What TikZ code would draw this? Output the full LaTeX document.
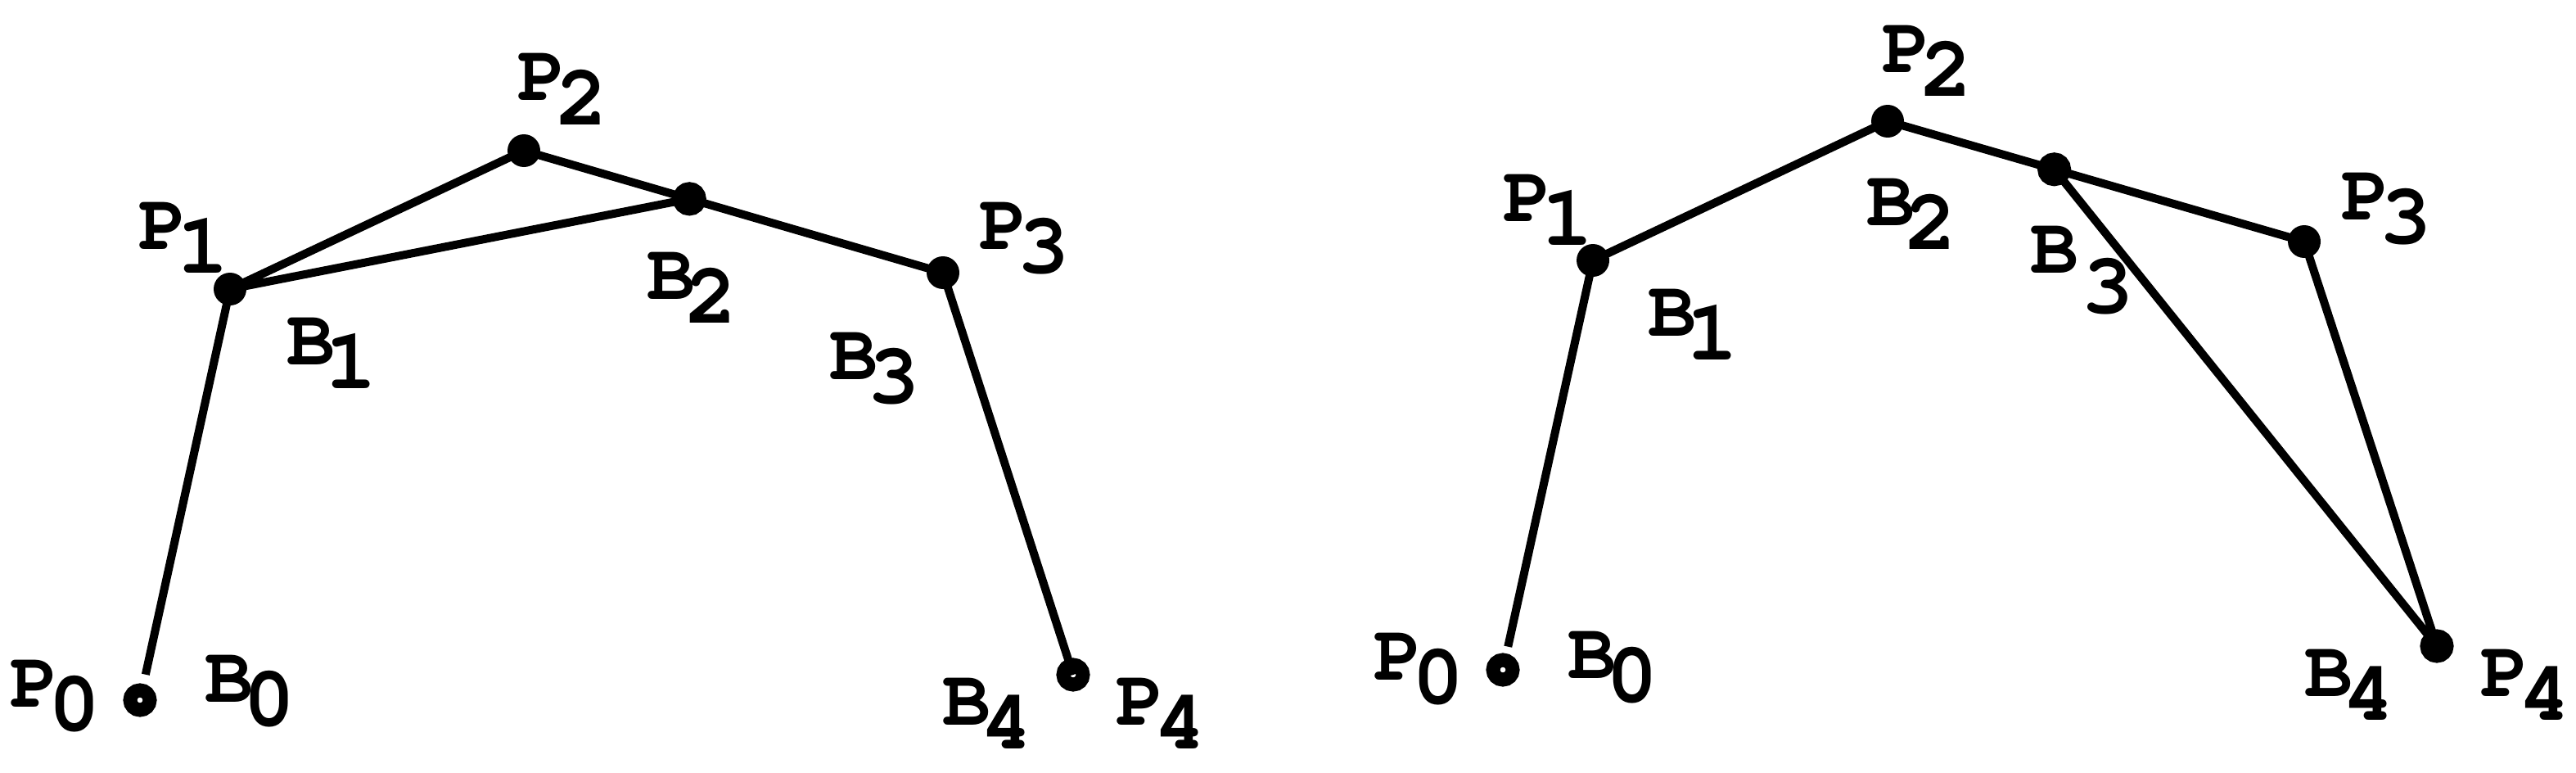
\documentclass[tikz,border=0pt]{standalone}
\usepackage[T1]{fontenc}
\usepackage{courier}
\usepackage{tikz}
\usetikzlibrary{calc}
\usetikzlibrary{positioning}
\newcommand{\sdig}[1]{{\fontsize{30}{30}\selectfont #1}}
\newcommand{\lb}[2]{#1\kern-.12em\raisebox{-.3em}{\sdig{#2}}}

\begin{document}
\begin{tikzpicture}[
    ln/.style={line width=1mm,line join=round},
    ptdot/.style={circle,fill,inner sep=0pt,minimum size=4mm},
    ptring/.style={circle,draw,line width=1.7mm,inner sep=0pt,minimum size=2.4mm},
    lbl/.style={anchor=base west,inner sep=0pt,font=\ttfamily\bfseries\fontsize{28}{28}\selectfont}]
      \fill[white] (0,0) rectangle (31.47,9.43);
      % left polygon
      \foreach \n/\x/\y in {lP1/2.81/5.90, lP2/6.40/7.59, lP3/11.52/6.10}
        \node[ptdot] (\n) at (\x,\y) {};
      \node[ptring] (lP0) at (1.71,0.88) {};
      \node[ptring] (lP4) at (13.11,1.19) {};
      \node[ptring] (lB2) at ($(lP2)!0.395!(lP3)$) {};
      \draw[ln,shorten >=3.2mm] (lP1.center) -- (lP0.center);
      \draw[ln] (lP4.center) -- (lP3.center) -- (lP2.center) -- (lP1.center) -- (lB2.center);
      \foreach \t/\s/\x/\y in {P/0/0.12/0.80, B/0/2.50/0.86, P/1/1.69/6.39, B/1/3.50/4.98,
                               P/2/6.32/8.20, B/2/7.90/5.78, P/3/11.96/6.39, B/3/10.13/4.80,
                               B/4/11.51/0.58, P/4/13.63/0.58}
        \node[lbl] (l\t\s-txt) at (\x,\y) {\lb{\t}{\s}};
      % right polygon
      \foreach \n/\x/\y in {rP1/19.46/6.25, rP2/23.06/7.95, rP3/28.15/6.48}
        \node[ptdot] (\n) at (\x,\y) {};
      \node[ptring] (rP0) at (18.36,1.25) {};
      \node[ptring] (rP4) at (29.77,1.54) {};
      \node[ptring] (rB3) at ($(rP2)!0.4!(rP3)$) {};
      \draw[ln,shorten >=2.9mm] (rP1.center) -- (rP0.center);
      \draw[ln] (rP1.center) -- (rP2.center) -- (rP3.center) -- (rP4.center) -- (rB3.center);
      \foreach \t/\s/\x/\y in {P/0/16.78/1.13, B/0/19.15/1.15, P/1/18.36/6.73, B/1/20.13/5.33,
                               P/2/22.99/8.55, B/2/22.80/6.68, P/3/28.60/6.75,
                               B/4/28.15/0.93, P/4/30.30/0.93}
        \node[lbl] (r\t\s-txt) at (\x,\y) {\lb{\t}{\s}};
      \node[lbl] (rB3-txt) at (24.80,6.10) {B\kern.04em\raisebox{-.5em}{\sdig{3}}};
    \end{tikzpicture}
\end{document}
